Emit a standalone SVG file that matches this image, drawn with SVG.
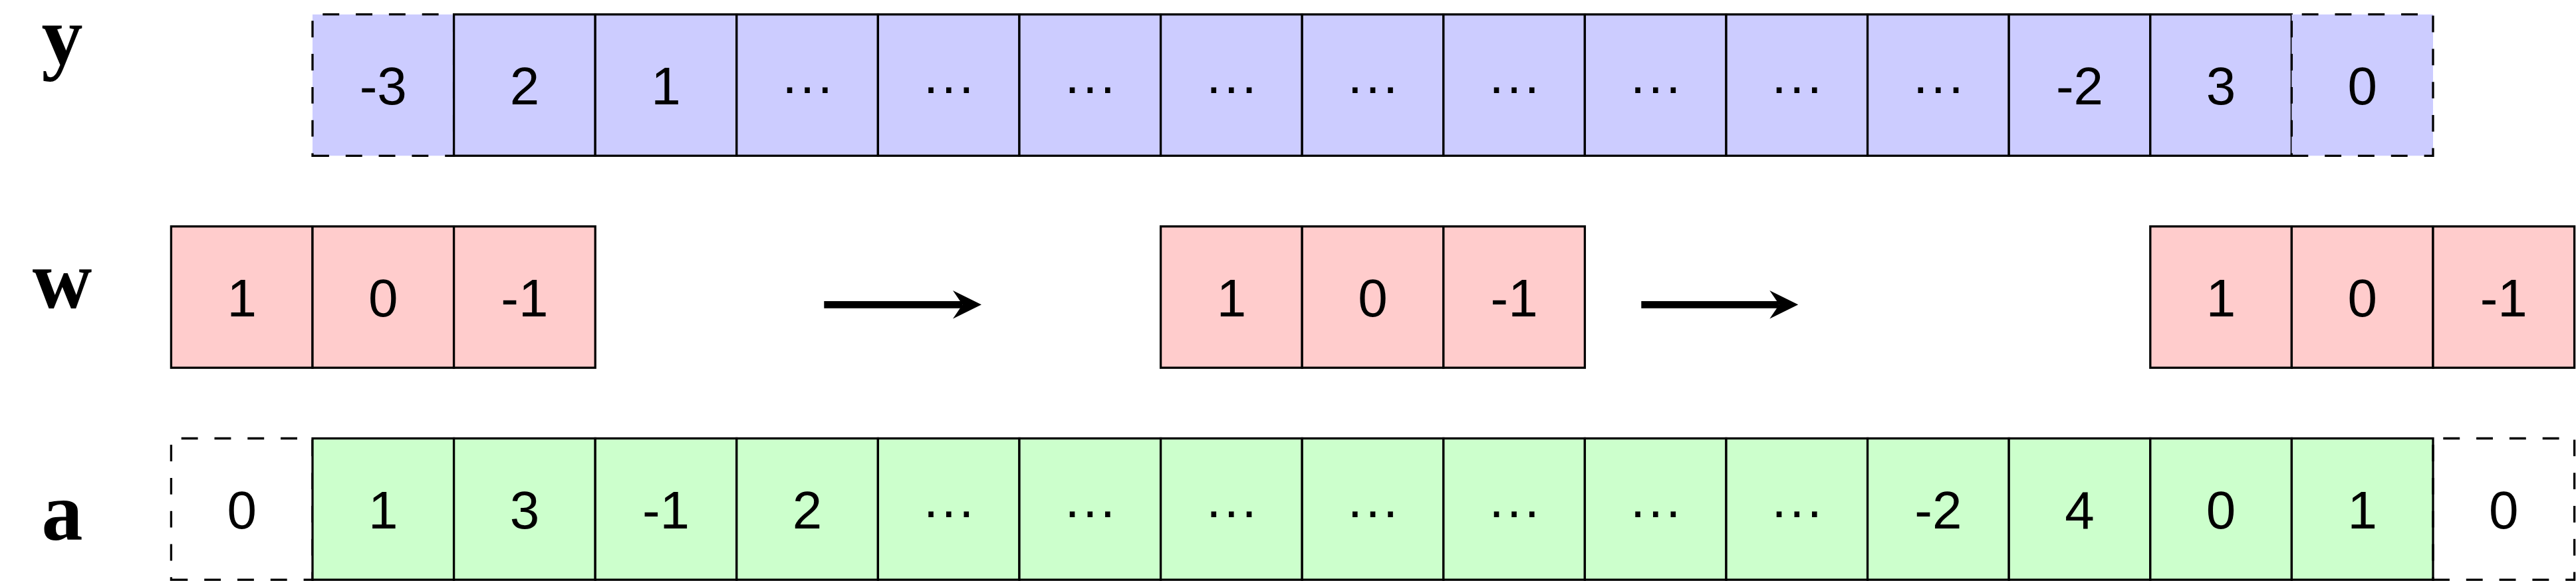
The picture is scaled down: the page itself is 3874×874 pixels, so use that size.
<svg xmlns="http://www.w3.org/2000/svg" width="3874" height="874" viewBox="0 0 3874 874">
<defs>
<style>
.lbl{font-family:"Liberation Serif","DejaVu Serif",serif;font-weight:bold;font-size:124px;text-anchor:middle;fill:#000}
.t{font-family:"Liberation Sans",Arial,sans-serif;font-size:80px;text-anchor:middle;fill:#000}
.cy{fill:#CCCCFF;stroke:#000;stroke-width:3.3}
.cw{fill:#FFCCCC;stroke:#000;stroke-width:3.3}
.ca{fill:#CCFFCC;stroke:#000;stroke-width:3.3}
.dy{fill:#CCCCFF;stroke:#000;stroke-width:3.3;stroke-dasharray:24.9 24.9}
.da{fill:none;stroke:#000;stroke-width:3.3;stroke-dasharray:24.9 24.9}
.arr{stroke:#000;stroke-width:10.7;fill:none;marker-end:url(#head)}
</style>
<marker id="head" viewBox="0 -22 44 44" markerUnits="userSpaceOnUse" markerWidth="44" markerHeight="44" refX="14.5" refY="0" orient="auto">
<path d="M 43 0 L 0 -21.3 L 14.5 0 L 0 21.3 Z" fill="#000"/>
</marker>
</defs>
<rect width="3874" height="874" fill="#fff"/>

<g id="labels">
<text id="label-y" class="lbl" x="93.5" y="96">y</text>
<text id="label-w" class="lbl" x="93.5" y="463">w</text>
<text id="label-a" class="lbl" x="93.5" y="812">a</text>
</g>

<!-- y row (top 21.7) -->
<g id="y0"><path class="dy" d="M 470 234.3 h 212.6 v -212.6 h -212.6 z"/><text class="t" x="576.3" y="157.1">-3</text></g>
<g id="y1"><rect class="cy" x="682.6" y="21.7" width="212.6" height="212.6"/><text class="t" x="788.9" y="157.1">2</text></g>
<g id="y2"><rect class="cy" x="895.2" y="21.7" width="212.6" height="212.6"/><text class="t" x="1001.5" y="157.1">1</text></g>
<g id="y3"><rect class="cy" x="1107.8" y="21.7" width="212.6" height="212.6"/><text class="t" x="1214.1" y="157.1">···</text></g>
<g id="y4"><rect class="cy" x="1320.4" y="21.7" width="212.6" height="212.6"/><text class="t" x="1426.7" y="157.1">···</text></g>
<g id="y5"><rect class="cy" x="1533" y="21.7" width="212.6" height="212.6"/><text class="t" x="1639.3" y="157.1">···</text></g>
<g id="y6"><rect class="cy" x="1745.6" y="21.7" width="212.6" height="212.6"/><text class="t" x="1851.9" y="157.1">···</text></g>
<g id="y7"><rect class="cy" x="1958.2" y="21.7" width="212.6" height="212.6"/><text class="t" x="2064.5" y="157.1">···</text></g>
<g id="y8"><rect class="cy" x="2170.8" y="21.7" width="212.6" height="212.6"/><text class="t" x="2277.1" y="157.1">···</text></g>
<g id="y9"><rect class="cy" x="2383.4" y="21.7" width="212.6" height="212.6"/><text class="t" x="2489.7" y="157.1">···</text></g>
<g id="y10"><rect class="cy" x="2596" y="21.7" width="212.6" height="212.6"/><text class="t" x="2702.3" y="157.1">···</text></g>
<g id="y11"><rect class="cy" x="2808.6" y="21.7" width="212.6" height="212.6"/><text class="t" x="2914.9" y="157.1">···</text></g>
<g id="y12"><rect class="cy" x="3021.2" y="21.7" width="212.6" height="212.6"/><text class="t" x="3127.5" y="157.1">-2</text></g>
<g id="y13"><rect class="cy" x="3233.8" y="21.7" width="212.6" height="212.6"/><text class="t" x="3340.1" y="157.1">3</text></g>
<g id="y14"><path class="dy" d="M 3446.4 234.3 h 212.6 v -212.6 h -212.6 z"/><text class="t" x="3552.7" y="157.1">0</text></g>

<!-- w rows (top 340.6) -->
<g id="w1a"><rect class="cw" x="257.4" y="340.6" width="212.6" height="212.6"/><text class="t" x="363.7" y="475.7">1</text></g>
<g id="w1b"><rect class="cw" x="470" y="340.6" width="212.6" height="212.6"/><text class="t" x="576.3" y="475.7">0</text></g>
<g id="w1c"><rect class="cw" x="682.6" y="340.6" width="212.6" height="212.6"/><text class="t" x="788.9" y="475.7">-1</text></g>
<g id="w2a"><rect class="cw" x="1745.6" y="340.6" width="212.6" height="212.6"/><text class="t" x="1851.9" y="475.7">1</text></g>
<g id="w2b"><rect class="cw" x="1958.2" y="340.6" width="212.6" height="212.6"/><text class="t" x="2064.5" y="475.7">0</text></g>
<g id="w2c"><rect class="cw" x="2170.8" y="340.6" width="212.6" height="212.6"/><text class="t" x="2277.1" y="475.7">-1</text></g>
<g id="w3a"><rect class="cw" x="3233.8" y="340.6" width="212.6" height="212.6"/><text class="t" x="3340.1" y="475.7">1</text></g>
<g id="w3b"><rect class="cw" x="3446.4" y="340.6" width="212.6" height="212.6"/><text class="t" x="3552.7" y="475.7">0</text></g>
<g id="w3c"><rect class="cw" x="3659" y="340.6" width="212.6" height="212.6"/><text class="t" x="3765.3" y="475.7">-1</text></g>

<!-- a row (top 659.5) -->
<g id="a0"><path class="da" d="M 257.4 872.1 h 212.6 v -212.6 h -212.6 z"/><text class="t" x="363.7" y="794.6">0</text></g>
<g id="a1"><rect class="ca" x="470" y="659.5" width="212.6" height="212.6"/><text class="t" x="576.3" y="794.6">1</text></g>
<g id="a2"><rect class="ca" x="682.6" y="659.5" width="212.6" height="212.6"/><text class="t" x="788.9" y="794.6">3</text></g>
<g id="a3"><rect class="ca" x="895.2" y="659.5" width="212.6" height="212.6"/><text class="t" x="1001.5" y="794.6">-1</text></g>
<g id="a4"><rect class="ca" x="1107.8" y="659.5" width="212.6" height="212.6"/><text class="t" x="1214.1" y="794.6">2</text></g>
<g id="a5"><rect class="ca" x="1320.4" y="659.5" width="212.6" height="212.6"/><text class="t" x="1426.7" y="794.6">···</text></g>
<g id="a6"><rect class="ca" x="1533" y="659.5" width="212.6" height="212.6"/><text class="t" x="1639.3" y="794.6">···</text></g>
<g id="a7"><rect class="ca" x="1745.6" y="659.5" width="212.6" height="212.6"/><text class="t" x="1851.9" y="794.6">···</text></g>
<g id="a8"><rect class="ca" x="1958.2" y="659.5" width="212.6" height="212.6"/><text class="t" x="2064.5" y="794.6">···</text></g>
<g id="a9"><rect class="ca" x="2170.8" y="659.5" width="212.6" height="212.6"/><text class="t" x="2277.1" y="794.6">···</text></g>
<g id="a10"><rect class="ca" x="2383.4" y="659.5" width="212.6" height="212.6"/><text class="t" x="2489.7" y="794.6">···</text></g>
<g id="a11"><rect class="ca" x="2596" y="659.5" width="212.6" height="212.6"/><text class="t" x="2702.3" y="794.6">···</text></g>
<g id="a12"><rect class="ca" x="2808.6" y="659.5" width="212.6" height="212.6"/><text class="t" x="2914.9" y="794.6">-2</text></g>
<g id="a13"><rect class="ca" x="3021.2" y="659.5" width="212.6" height="212.6"/><text class="t" x="3127.5" y="794.6">4</text></g>
<g id="a14"><rect class="ca" x="3233.8" y="659.5" width="212.6" height="212.6"/><text class="t" x="3340.1" y="794.6">0</text></g>
<g id="a15"><rect class="ca" x="3446.4" y="659.5" width="212.6" height="212.6"/><text class="t" x="3552.7" y="794.6">1</text></g>
<g id="a16"><path class="da" d="M 3659 872.1 h 212.6 v -212.6 h -212.6 z"/><text class="t" x="3765.3" y="794.6">0</text></g>

<g id="connectors">
<line class="arr" x1="1239.3" y1="458.3" x2="1447.5" y2="458.3"/>
<line class="arr" x1="2468.3" y1="458.3" x2="2675.8" y2="458.3"/>
</g>
</svg>
